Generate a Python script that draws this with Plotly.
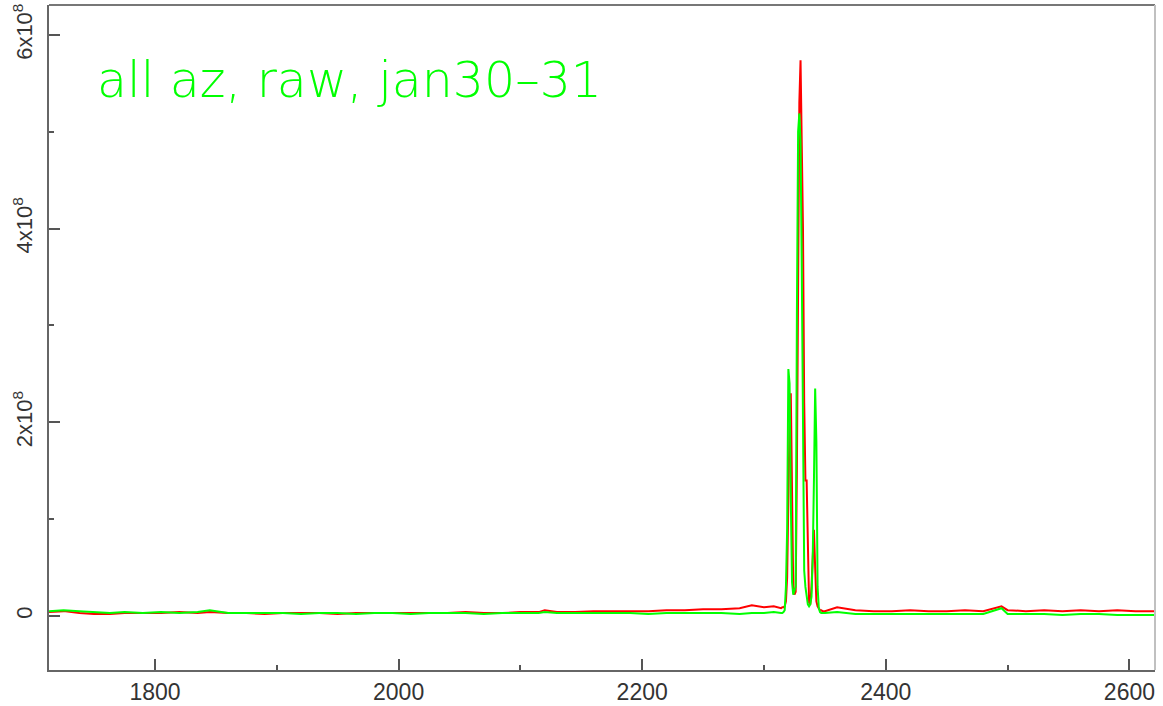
import plotly.graph_objects as go

# Wavenumber grid (shared by both traces); dense sampling across the line complex
wavenumber = [
    1713, 1725, 1738, 1750, 1763, 1775, 1790, 1805, 1820, 1835, 1845, 1860,
    1875, 1890, 1905, 1920, 1935, 1950, 1965, 1980, 1995, 2010, 2025, 2040,
    2055, 2070, 2085, 2100, 2115, 2120, 2130, 2145, 2160, 2175, 2190, 2205,
    2220, 2235, 2250, 2265, 2280, 2290, 2300, 2308,
    2314, 2315, 2316, 2317, 2318, 2319, 2320, 2321, 2322, 2323, 2324, 2325,
    2326, 2327, 2328, 2329, 2330, 2331, 2332, 2333, 2334, 2335, 2336, 2337,
    2338, 2339, 2340, 2341, 2342, 2343, 2344, 2345, 2346, 2347, 2348, 2350,
    2360, 2375, 2390, 2405, 2420, 2435, 2450, 2465, 2480, 2495, 2500, 2515,
    2530, 2545, 2560, 2575, 2590, 2605, 2621,
]

# Raw power, in units of 1e8
power_red = [
    0.04, 0.05, 0.03, 0.02, 0.02, 0.03, 0.03, 0.03, 0.04, 0.03, 0.04, 0.03,
    0.03, 0.02, 0.03, 0.03, 0.03, 0.02, 0.03, 0.03, 0.03, 0.03, 0.03, 0.03,
    0.04, 0.03, 0.03, 0.04, 0.04, 0.06, 0.04, 0.04, 0.05, 0.05, 0.05, 0.05,
    0.06, 0.06, 0.07, 0.07, 0.08, 0.11, 0.09, 0.10,
    0.08, 0.09, 0.09, 0.10, 0.15, 0.40, 1.20, 2.00, 2.30, 1.50, 0.30, 0.22,
    0.25, 1.50, 3.50, 5.30, 5.74, 4.80, 4.00, 2.20, 1.40, 1.40, 0.58, 0.14,
    0.12, 0.30, 0.60, 0.89, 0.50, 0.15, 0.10, 0.08, 0.06, 0.06, 0.05, 0.05,
    0.09, 0.06, 0.05, 0.05, 0.06, 0.05, 0.05, 0.06, 0.05, 0.10, 0.06, 0.05,
    0.06, 0.05, 0.06, 0.05, 0.06, 0.05, 0.05,
]

power_green = [
    0.05, 0.06, 0.05, 0.04, 0.03, 0.04, 0.03, 0.04, 0.03, 0.04, 0.06, 0.03,
    0.03, 0.03, 0.03, 0.02, 0.03, 0.03, 0.02, 0.03, 0.03, 0.02, 0.03, 0.03,
    0.03, 0.02, 0.03, 0.03, 0.03, 0.04, 0.03, 0.03, 0.03, 0.03, 0.03, 0.02,
    0.03, 0.03, 0.03, 0.03, 0.02, 0.03, 0.03, 0.04,
    0.03, 0.03, 0.04, 0.06, 0.30, 0.90, 2.55, 2.40, 1.20, 0.35, 0.22, 0.25,
    0.30, 3.10, 5.00, 5.19, 4.90, 3.60, 1.80, 0.47, 0.30, 0.20, 0.12, 0.10,
    0.12, 0.20, 0.60, 1.40, 2.35, 1.80, 0.30, 0.08, 0.04, 0.03, 0.03, 0.03,
    0.04, 0.02, 0.02, 0.02, 0.02, 0.02, 0.02, 0.02, 0.02, 0.08, 0.02, 0.02,
    0.02, 0.01, 0.02, 0.02, 0.01, 0.01, 0.01,
]

x_ticks = [1800, 2000, 2200, 2400, 2600]
y_ticks = [0, 2, 4, 6]
y_tick_text = ["0", "2x10<sup>8</sup>", "4x10<sup>8</sup>", "6x10<sup>8</sup>"]

fig = go.Figure()
fig.add_trace(go.Scatter(x=wavenumber, y=power_red, mode="lines",
                         line=dict(color="#ff0000", width=2)))
fig.add_trace(go.Scatter(x=wavenumber, y=power_green, mode="lines",
                         line=dict(color="#00ff00", width=2)))

x_font = dict(family="Liberation Sans, Arial, sans-serif", size=23, color="#333333")
y_font = dict(family="Liberation Sans, Arial, sans-serif", size=22, color="#333333")

fig.update_layout(
    width=1163, height=706,
    margin=dict(l=49, r=8, t=5, b=36),
    paper_bgcolor="white", plot_bgcolor="white",
    showlegend=False,
    xaxis=dict(
        range=[1713, 2621], tickvals=x_ticks, ticks="inside", ticklen=11,
        tickwidth=2, tickcolor="#555555", showgrid=False, zeroline=False,
        showline=True, linecolor="#666666", linewidth=2, tickfont=x_font,
        ticklabelstandoff=0, automargin=False, ticklabeloverflow="allow",
        minor=dict(dtick=100, ticks="inside", ticklen=5, tickwidth=2,
                   tickcolor="#555555", showgrid=False),
    ),
    yaxis=dict(
        range=[-0.558, 6.31], tickvals=y_ticks, ticktext=y_tick_text,
        ticks="inside", ticklen=11, tickwidth=2, tickcolor="#555555",
        showgrid=False, zeroline=False, showline=True, linecolor="#666666",
        linewidth=2, tickfont=y_font, tickangle=-90, automargin=False,
        ticklabeloverflow="allow", ticklabelstandoff=6,
        minor=dict(dtick=1, ticks="inside", ticklen=5, tickwidth=2,
                   tickcolor="#555555", showgrid=False),
    ),
    shapes=[
        dict(type="line", xref="paper", yref="paper", x0=0, x1=1, y0=1, y1=1,
             line=dict(color="#777777", width=2)),
        dict(type="line", xref="paper", yref="paper", x0=1, x1=1, y0=0, y1=1,
             line=dict(color="#c0c0c0", width=2)),
    ],
    annotations=[
        dict(text="all az, raw, jan30–31", xref="paper", yref="paper",
             x=0.042, y=0.886, xanchor="left", yanchor="middle",
             showarrow=False,
             font=dict(family="DejaVu Sans", size=49, color="#00ff00", weight=200)),
    ],
)

fig.write_html("out.html")
